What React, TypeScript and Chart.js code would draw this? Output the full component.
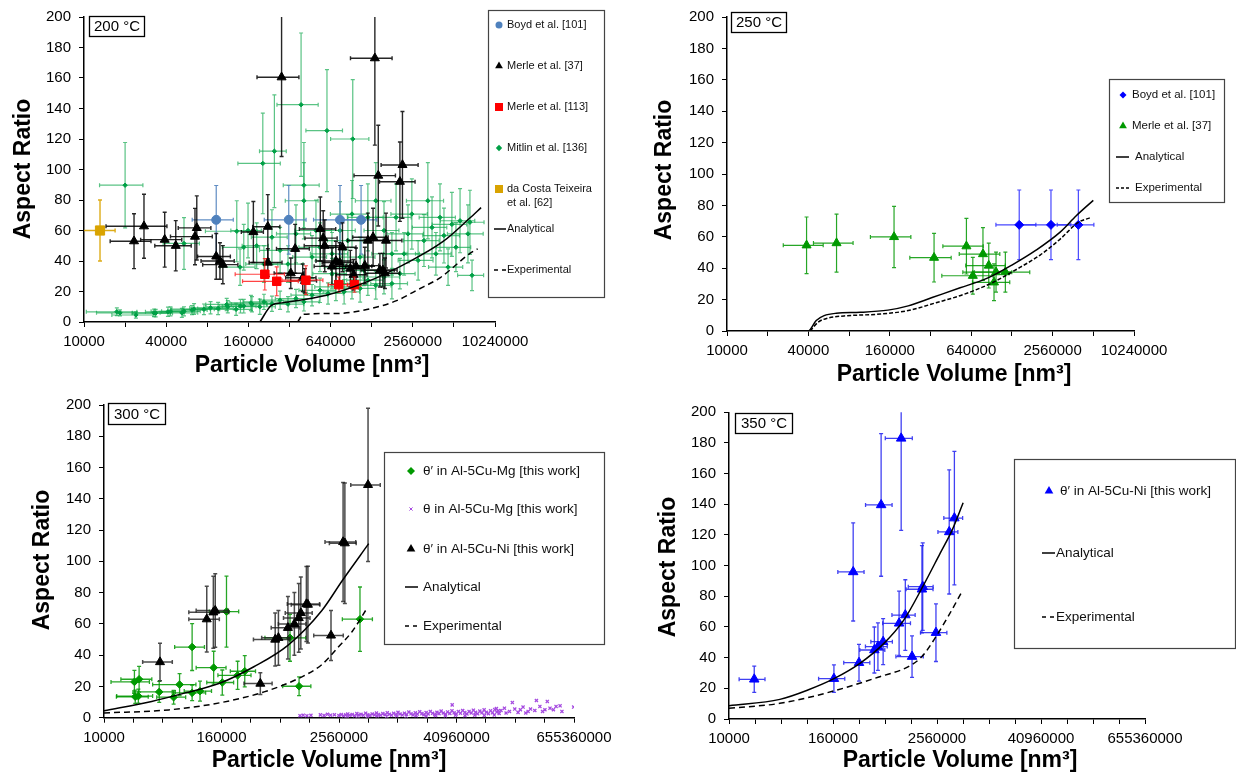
import React, { useEffect, useRef } from 'react';
import { Chart, registerables } from 'chart.js';

Chart.register(...registerables);

const FONT = "'Liberation Sans', Arial, Helvetica, sans-serif";
Chart.defaults.font.family = FONT;
Chart.defaults.color = '#000';

type ErrPt = [number, number, number, number]; // x, y, dx, dy
type XY = [number, number];

// ---------- shared ticks ----------
const xTicksTop = [10000, 20000, 40000, 80000, 160000, 320000, 640000, 1280000, 2560000, 5120000, 10240000];
const xLabelsTop = ['10000', '', '40000', '', '160000', '', '640000', '', '2560000', '', '10240000'];
const xTicksBottom = [10000, 20000, 40000, 80000, 160000, 320000, 640000, 1280000, 2560000, 5120000, 10240000,
  20480000, 40960000, 81920000, 163840000, 327680000, 655360000];
const xLabelsBottom = ['10000', '', '', '', '160000', '', '', '', '2560000', '', '', '', '40960000', '', '', '', '655360000'];
const yTicks = [0, 20, 40, 60, 80, 100, 120, 140, 160, 180, 200];

// ---------- 200 °C ----------
const p200Boyd: ErrPt[] = [
  [93000, 67, 31000, 22.5], [316000, 67, 107000, 22.5], [750000, 67, 270000, 22.5], [1070000, 67, 325000, 22.5],
];
const p200Merle37: ErrPt[] = [
  [23250, 53, 7700, 18], [27500, 62.8, 13000, 21], [39000, 54, 13000, 18], [47000, 50, 14000, 16.5],
  [65000, 56, 22000, 18.5], [67000, 61.7, 18000, 21], [93000, 43, 25000, 15], [99000, 40, 27000, 12],
  [104000, 37.6, 30000, 12.5], [174000, 59, 32000, 20], [222000, 62.5, 50000, 21], [222000, 39, 60000, 9],
  [280000, 160.5, 95000, 52], [327000, 32, 80000, 10], [352000, 48, 95000, 16], [400000, 29, 100000, 9],
  [415000, 27, 90000, 8], [538000, 61, 160000, 21], [565000, 55, 150000, 18], [580000, 50, 170000, 17],
  [655000, 36.5, 170000, 12], [700000, 40, 200000, 13], [745000, 39, 190000, 13], [782000, 49, 200000, 16],
  [893000, 35, 250000, 12], [943000, 31, 240000, 10], [983000, 36.5, 300000, 12], [1140000, 37, 300000, 12],
  [1200000, 53.4, 350000, 18], [1310000, 55.6, 380000, 19], [1350000, 173, 455000, 57], [1430000, 96, 480000, 33],
  [1470000, 34, 400000, 11], [1545000, 34, 420000, 11], [1600000, 32, 450000, 10], [1630000, 53.4, 500000, 18],
  [2060000, 92, 600000, 26], [2150000, 103, 650000, 35],
];
const p200Merle113: ErrPt[] = [
  [211000, 31.3, 83000, 10.3], [258000, 26.7, 113000, 9.5], [422000, 27.4, 140000, 9.5],
  [735000, 24.5, 120000, 5], [957000, 24.5, 110000, 5],
];
const p200Mitlin: ErrPt[] = [
  [20000, 89.7, 7000, 28], [204000, 104, 70000, 33], [248000, 112, 55000, 37], [389000, 142.5, 130000, 47],
  [602000, 125.5, 180000, 40], [930000, 120, 290000, 39],
  [54000, 51.5, 16000, 17], [131500, 59.5, 54000, 20], [184000, 50, 40000, 15], [159000, 60, 40000, 18],
  [148000, 49, 45000, 15], [139000, 36, 40000, 12], [208000, 38, 55000, 12], [238000, 55.6, 70000, 18],
  [273000, 47, 80000, 15], [312000, 38, 90000, 12], [357000, 57.8, 100000, 19], [408000, 89.7, 120000, 28],
  [408000, 79.5, 110000, 25], [468000, 42.6, 130000, 14], [500000, 60, 150000, 20], [535000, 49, 160000, 16],
  [655000, 44.7, 200000, 14], [655000, 31.7, 180000, 10], [750000, 60, 220000, 19], [804000, 36, 230000, 11],
  [857000, 53.4, 250000, 17], [918000, 70.8, 280000, 22], [1053000, 42.6, 300000, 13], [1120000, 33.9, 320000, 10],
  [1200000, 68.6, 350000, 22], [1372000, 79.5, 400000, 25], [1575000, 60, 450000, 19], [1800000, 44.7, 520000, 14],
  [1930000, 68.6, 560000, 22],
  [2060000, 31.7, 600000, 10], [2210000, 44.7, 650000, 14], [2360000, 57.8, 700000, 19], [2520000, 70.8, 750000, 23],
  [2800000, 40.4, 800000, 13], [3090000, 53.4, 900000, 17], [3300000, 79.5, 1000000, 25], [3540000, 62, 1000000, 20],
  [3780000, 44.7, 1100000, 14], [4050000, 68.6, 1200000, 22], [4330000, 56.7, 1300000, 18], [4640000, 36, 1300000, 12],
  [4950000, 64, 1400000, 21], [5300000, 49, 1500000, 16], [5680000, 66.4, 1600000, 21], [6490000, 57.8, 1900000, 19],
  [6950000, 30.6, 1500000, 10], [6710000, 65.4, 1800000, 21],
  [17400, 6.7, 7000, 2.5], [18350, 6, 6000, 2], [24000, 4.6, 8000, 2], [32600, 6, 10000, 2.5],
  [33500, 5.8, 11000, 2.5], [41200, 6.7, 13000, 3], [43000, 7, 12000, 3], [52100, 6, 16000, 3],
  [54000, 7, 17000, 3], [61800, 7.8, 18000, 3], [64000, 8.5, 20000, 3.5], [75600, 8.3, 23000, 3.5],
  [84500, 9.3, 25000, 4], [96000, 8.9, 28000, 4], [111000, 11.5, 33000, 4], [113000, 10, 35000, 4],
  [130000, 8.3, 40000, 4], [140000, 10.4, 42000, 4.5], [148000, 10.4, 45000, 4.5], [167000, 12.5, 50000, 5],
  [170000, 11.7, 50000, 5], [194000, 10, 58000, 5], [208000, 13.2, 62000, 5], [238000, 12, 70000, 5],
  [273000, 14.3, 80000, 6], [312000, 11.7, 95000, 5], [357000, 15.4, 105000, 6], [408000, 13.2, 120000, 6],
  [468000, 17.6, 140000, 7], [535000, 20.8, 160000, 8], [613000, 18.7, 180000, 7], [700000, 23, 210000, 9],
  [804000, 19.8, 240000, 8], [918000, 25.2, 270000, 10], [1053000, 22, 310000, 9], [1200000, 27.4, 360000, 10],
  [1372000, 24, 400000, 9], [1575000, 29.5, 470000, 11], [1800000, 25.2, 540000, 10],
];
const p200DaCosta: ErrPt[] = [[13100, 60, 3800, 20]];
const p200Analytical: XY[] = [
  [194000, 0], [237000, 11], [288000, 12.7], [598000, 17.6], [1178000, 26.3], [2180000, 37.5],
  [4270000, 52.8], [6670000, 68], [8100000, 75],
];
const p200Experimental: XY[] = [
  [368000, 0], [402000, 5], [710000, 5.6], [1178000, 8.2], [1950000, 14], [2730000, 20.8],
  [4050000, 29], [4780000, 34], [6710000, 45], [7650000, 48],
];

// ---------- 250 °C ----------
const p250Boyd: ErrPt[] = [
  [1450000, 67.6, 475000, 22.2], [2490000, 67.6, 1000000, 22.2], [3970000, 67.6, 1200000, 22.2],
];
const p250Merle37: ErrPt[] = [
  [38770, 54.6, 12700, 18], [64600, 56, 21000, 18.5], [172000, 59.9, 57000, 19.5], [340000, 46.7, 115000, 15.5],
  [590000, 54, 195000, 17.7], [658000, 35.2, 270000, 11.7], [782000, 49, 260000, 16.8], [863000, 41.7, 280000, 14.3],
  [944000, 31, 290000, 11.7], [977000, 37.5, 300000, 12.7], [1145000, 37.5, 590000, 12.7],
];
const p250Analytical: XY[] = [
  [10000, 0], [39800, 0], [45700, 6.7], [52300, 9.8], [64300, 11.3], [96600, 11.9], [155000, 13.3],
  [219000, 16], [329000, 21.3], [530000, 27.5], [851000, 33.8], [1280000, 42], [1930000, 51.5],
  [2910000, 63], [3830000, 73.4], [5120000, 83.2],
];
const p250Experimental: XY[] = [
  [41200, 0], [47200, 5.6], [56000, 8.3], [73500, 9.6], [136000, 10.8], [219000, 13], [352000, 18],
  [568000, 23.4], [913000, 30.7], [1370000, 39], [2070000, 48.4], [2900000, 58.4], [3940000, 69], [4940000, 72.4],
];

// ---------- 300 °C ----------
const p300MgPrime: ErrPt[] = [
  [20500, 22.9, 8700, 7.4], [22900, 24.6, 8000, 8.2], [20900, 13.4, 7500, 4.2], [22500, 13.8, 9000, 4.5],
  [36800, 16.5, 17000, 6.7], [51700, 13.1, 17000, 4.4], [59500, 21.2, 28000, 7], [80000, 45.2, 27000, 15],
  [80000, 15.9, 30000, 5], [96400, 17, 30000, 6.4], [133000, 32, 45000, 10.5], [163000, 22.5, 50000, 8],
  [180000, 67.9, 60000, 22.7], [234000, 27.1, 87000, 9], [277000, 29.7, 80000, 10], [806000, 51.1, 360000, 15],
  [998000, 20.1, 320000, 6], [4200000, 63, 1430000, 20.6],
];
const p300MgTheta: XY[] = [
  [1020000, 1.3], [1100000, 1.6], [1200000, 1.2], [1320000, 1.5], [1650000, 1.8], [1800000, 1.4], [1950000, 2.2],
  [2100000, 1.6], [2300000, 1.9],
  [2550000, 1.4], [2700000, 2.0], [2850000, 1.2], [3000000, 1.8], [3150000, 2.4], [3300000, 1.5], [3500000, 2.1],
  [3700000, 1.3], [3900000, 2.6], [4100000, 1.7], [4300000, 2.2], [4550000, 1.5], [4800000, 2.9], [5050000, 1.9],
  [5300000, 1.4], [5600000, 2.4], [5900000, 1.8], [6200000, 3.0], [6500000, 2.1], [6850000, 1.5], [7200000, 2.6],
  [7600000, 1.9], [8000000, 3.2], [8400000, 2.2], [8850000, 1.6], [9300000, 2.8], [9800000, 2.0], [10300000, 3.4],
  [10800000, 2.4], [11400000, 1.7], [12000000, 2.9], [12600000, 2.1], [13300000, 3.6], [14000000, 2.5],
  [14700000, 1.8], [15500000, 3.1], [16300000, 2.3], [17200000, 3.8], [18100000, 2.6], [19000000, 1.9],
  [20000000, 3.3], [21000000, 2.4], [22100000, 4.0], [23300000, 2.8], [24500000, 2.0], [25800000, 3.5],
  [27100000, 2.6], [28500000, 4.2], [30000000, 3.0], [31600000, 2.2], [33200000, 3.7], [35000000, 2.7],
  [36800000, 4.4], [37000000, 8.2], [38700000, 3.1], [40700000, 2.3], [42800000, 3.9], [45000000, 2.9],
  [47400000, 4.6], [49800000, 3.3], [52400000, 2.4], [55100000, 4.0], [58000000, 3.0], [61000000, 4.8],
  [64200000, 3.4], [67500000, 2.5], [71000000, 4.2], [74700000, 3.1], [78600000, 5.0], [82700000, 3.5],
  [87000000, 2.6], [91500000, 4.4], [96000000, 3.2], [101000000, 5.2], [105000000, 5.8], [106000000, 3.6],
  [110000000, 4.5], [112000000, 2.7],
  [3100000, 0.9], [4000000, 1.0], [5000000, 0.8], [6300000, 1.1], [7900000, 0.9], [10000000, 1.2],
  [12500000, 1.0], [15800000, 1.3], [20000000, 1.1], [25000000, 1.4], [31500000, 1.2], [40000000, 1.5],
  [50000000, 1.3], [63000000, 1.6], [79000000, 1.4], [100000000, 1.7],
  [117000000, 4.6], [127000000, 6.1], [132000000, 3.0], [143000000, 4.0], [153000000, 9.7], [162000000, 5.5],
  [175000000, 3.4], [185000000, 5.1], [197000000, 6.8], [210000000, 3.0], [222000000, 4.0], [235000000, 5.5],
  [260000000, 4.6], [270000000, 11.0], [293000000, 7.2], [312000000, 4.0], [330000000, 5.1], [349000000, 10.4],
  [372000000, 6.1], [403000000, 5.1], [429000000, 7.2], [472000000, 7.6], [493000000, 4.0], [650000000, 6.8],
];
const p300NiPrime: ErrPt[] = [
  [37500, 35.6, 12600, 12], [113000, 63, 39000, 21], [132000, 67.4, 58000, 23], [138000, 68.5, 50000, 23.5],
  [400000, 21.8, 128000, 7], [568000, 50, 228000, 17], [613000, 51.1, 200000, 17.5], [767000, 57.5, 250000, 20],
  [893000, 60, 280000, 20], [991000, 63.8, 300000, 22], [1040000, 67, 320000, 23], [1186000, 72.7, 430000, 24],
  [1230000, 72.3, 400000, 24.5], [2120000, 52.6, 710000, 16], [2820000, 112.4, 980000, 38],
  [2940000, 111.6, 900000, 38.5], [5080000, 148.9, 1700000, 49],
];
const p300Analytical: XY[] = [
  [10000, 4.5], [30800, 10.4], [68700, 15.9], [153000, 22], [343000, 32.6], [766000, 46.3],
  [1710000, 68.6], [2760000, 87.6], [5160000, 111.3],
];
const p300Experimental: XY[] = [
  [10000, 3], [46000, 5], [153000, 9.5], [437000, 16.5], [1054000, 26], [1710000, 34], [2500000, 45],
  [3480000, 55], [4900000, 69.5],
];

// ---------- 350 °C ----------
const p350NiPrime: ErrPt[] = [
  [19600, 25.9, 6500, 8.6], [164000, 26.3, 55000, 9], [274000, 95.9, 92000, 32], [320000, 36.7, 107000, 12],
  [482000, 45, 155000, 15], [530000, 47.2, 150000, 15.5], [577000, 139.6, 196000, 46.5], [609000, 50.4, 170000, 15],
  [932000, 62.4, 330000, 21], [985000, 183, 340000, 60], [1100000, 67.8, 330000, 23], [1316000, 40.7, 460000, 13.5],
  [1713000, 84.6, 590000, 28.5], [1750000, 86.3, 560000, 28.5], [2490000, 56.3, 840000, 18.8],
  [3545000, 122, 920000, 40.5], [4070000, 131, 1000000, 43.5],
];
const p350Analytical: XY[] = [
  [10000, 8.7], [38800, 12.8], [81900, 18.9], [164000, 26.3], [328000, 36.3], [622000, 49.3],
  [1060000, 64.6], [1750000, 86.3], [2780000, 108], [3820000, 123], [5140000, 141],
];
const p350Experimental: XY[] = [
  [10000, 7], [38800, 10.2], [164000, 18.3], [558000, 27.6], [1180000, 34], [1713000, 40.7],
  [2490000, 53.7], [3430000, 66.7], [4980000, 83],
];

// ---------- helpers ----------
const toErr = (a: ErrPt[]) => a.map(([x, y, dx, dy]) => ({ x, y, dx, dy }));
const toXY = (a: XY[]) => a.map(([x, y]) => ({ x, y }));

function pts(label: string, data: ErrPt[], style: string, color: string, r: number, errColor: string, errWidth = 1.2) {
  return {
    label, data: toErr(data), pointStyle: style, pointRadius: r, pointHoverRadius: r,
    backgroundColor: color, borderColor: color, borderWidth: 1, showLine: false, errColor, errWidth,
  };
}
function line(label: string, data: XY[], dash: number[]) {
  return {
    label, data: toXY(data), showLine: true, pointRadius: 0, pointHoverRadius: 0, borderColor: '#000',
    backgroundColor: '#000', borderWidth: 1.5, borderDash: dash, cubicInterpolationMode: 'monotone', fill: false,
  };
}

const errorBarPlugin = {
  id: 'errorBars',
  beforeDatasetDraw(chart: any, args: any) {
    const ds = chart.data.datasets[args.index];
    if (!ds.errColor) return;
    const { ctx, chartArea: a } = chart;
    const xs = chart.scales.x, ys = chart.scales.y;
    ctx.save();
    ctx.beginPath();
    ctx.rect(a.left, a.top, a.right - a.left, a.bottom - a.top);
    ctx.clip();
    ctx.strokeStyle = ds.errColor;
    ctx.lineWidth = ds.errWidth;
    const cap = 2;
    for (const p of ds.data) {
      const px = xs.getPixelForValue(p.x), py = ys.getPixelForValue(p.y);
      const xl = xs.getPixelForValue(p.x - p.dx), xr = xs.getPixelForValue(p.x + p.dx);
      const yt = ys.getPixelForValue(p.y + p.dy), yb = ys.getPixelForValue(p.y - p.dy);
      ctx.beginPath();
      ctx.moveTo(xl, py); ctx.lineTo(xr, py);
      ctx.moveTo(xl, py - cap); ctx.lineTo(xl, py + cap);
      ctx.moveTo(xr, py - cap); ctx.lineTo(xr, py + cap);
      ctx.moveTo(px, yt); ctx.lineTo(px, yb);
      ctx.moveTo(px - cap, yt); ctx.lineTo(px + cap, yt);
      ctx.moveTo(px - cap, yb); ctx.lineTo(px + cap, yb);
      ctx.stroke();
    }
    ctx.restore();
  },
};

function drawMarker(ctx: CanvasRenderingContext2D, style: string, x: number, y: number, s: number, color: string) {
  ctx.fillStyle = color;
  ctx.strokeStyle = color;
  ctx.lineWidth = 1;
  ctx.beginPath();
  if (style === 'circle') {
    ctx.arc(x, y, s, 0, Math.PI * 2);
    ctx.fill();
  } else if (style === 'triangle') {
    ctx.moveTo(x, y - s);
    ctx.lineTo(x + 0.866 * s, y + 0.5 * s);
    ctx.lineTo(x - 0.866 * s, y + 0.5 * s);
    ctx.closePath();
    ctx.fill();
  } else if (style === 'rect') {
    ctx.rect(x - s, y - s, 2 * s, 2 * s);
    ctx.fill();
  } else if (style === 'rectRot') {
    ctx.moveTo(x, y - s); ctx.lineTo(x + s, y); ctx.lineTo(x, y + s); ctx.lineTo(x - s, y);
    ctx.closePath();
    ctx.fill();
  } else if (style === 'crossRot') {
    ctx.moveTo(x - s, y - s); ctx.lineTo(x + s, y + s);
    ctx.moveTo(x + s, y - s); ctx.lineTo(x - s, y + s);
    ctx.stroke();
  }
}

type LegendItem = {
  text: string[]; y: number; kind: 'pt' | 'line'; style?: string; color?: string; size?: number;
  dash?: number[]; mx?: number; x0?: number; x1?: number; tx: number;
};
type Layout = {
  w: number; h: number; left: number; top: number;
  area: { l: number; r: number; t: number; b: number };
  xMax: number; xTicks: number[]; xLabels: string[];
  temp: string; tempBox: number[];
  xTitle: number[]; yTitle: number[];
  legendBox: number[]; legendFont: number; legendItems: LegendItem[];
  datasets: any[];
};

function makeDecor(p: Layout) {
  return {
    id: 'decor',
    afterDraw(chart: any) {
      const ctx: CanvasRenderingContext2D = chart.ctx;
      ctx.save();
      // temperature label
      const [tx, ty, tw, th] = p.tempBox;
      ctx.fillStyle = '#fff';
      ctx.fillRect(tx, ty, tw, th);
      ctx.strokeStyle = '#000';
      ctx.lineWidth = 1.3;
      ctx.strokeRect(tx + 0.5, ty + 0.5, tw, th);
      ctx.fillStyle = '#000';
      ctx.font = `15px ${FONT}`;
      ctx.textAlign = 'center';
      ctx.textBaseline = 'middle';
      ctx.fillText(p.temp, tx + tw / 2 + 0.5, ty + th / 2 + 1);
      // legend
      const [lx, ly, lw, lh] = p.legendBox;
      ctx.fillStyle = '#fff';
      ctx.fillRect(lx, ly, lw, lh);
      ctx.strokeStyle = '#444';
      ctx.lineWidth = 1.2;
      ctx.strokeRect(lx + 0.5, ly + 0.5, lw, lh);
      ctx.font = `${p.legendFont}px ${FONT}`;
      ctx.textAlign = 'left';
      ctx.textBaseline = 'middle';
      for (const it of p.legendItems) {
        if (it.kind === 'pt') {
          drawMarker(ctx, it.style!, it.mx!, it.y, it.size!, it.color!);
        } else {
          ctx.beginPath();
          ctx.strokeStyle = '#000';
          ctx.lineWidth = 1.5;
          ctx.setLineDash(it.dash || []);
          ctx.moveTo(it.x0!, it.y);
          ctx.lineTo(it.x1!, it.y);
          ctx.stroke();
          ctx.setLineDash([]);
        }
        ctx.fillStyle = '#111';
        it.text.forEach((t, i) => ctx.fillText(t, it.tx, it.y + i * (p.legendFont + 2.5)));
      }
      // axis titles
      ctx.fillStyle = '#000';
      ctx.font = `bold 23px ${FONT}`;
      ctx.textAlign = 'center';
      ctx.textBaseline = 'middle';
      ctx.fillText('Particle Volume [nm³]', p.xTitle[0], p.xTitle[1]);
      ctx.translate(p.yTitle[0], p.yTitle[1]);
      ctx.rotate(-Math.PI / 2);
      ctx.fillText('Aspect Ratio', 0, 0);
      ctx.restore();
    },
  };
}

// ---------- panel layouts ----------
const MITLIN = '#00A046';
const panels: Layout[] = [
  {
    w: 618, h: 388, left: 0, top: 0,
    area: { l: 84, r: 495, t: 15, b: 322 },
    xMax: 10240000, xTicks: xTicksTop, xLabels: xLabelsTop,
    temp: '200 °C', tempBox: [89, 16, 55, 20],
    xTitle: [312, 366], yTitle: [24, 169],
    legendBox: [488, 10, 116, 287], legendFont: 11,
    legendItems: [
      { text: ['Boyd et al. [101]'], y: 25, kind: 'pt', style: 'circle', color: '#4F81BD', size: 3.5, mx: 499, tx: 507 },
      { text: ['Merle et al. [37]'], y: 66, kind: 'pt', style: 'triangle', color: '#000', size: 4.5, mx: 499, tx: 507 },
      { text: ['Merle et al. [113]'], y: 107, kind: 'pt', style: 'rect', color: '#FF0000', size: 4, mx: 499, tx: 507 },
      { text: ['Mitlin et al. [136]'], y: 148, kind: 'pt', style: 'rectRot', color: MITLIN, size: 3.2, mx: 499, tx: 507 },
      { text: ['da Costa Teixeira', 'et al. [62]'], y: 189, kind: 'pt', style: 'rect', color: '#D9A300', size: 4, mx: 499, tx: 507 },
      { text: ['Analytical'], y: 229, kind: 'line', x0: 494, x1: 506, tx: 507 },
      { text: ['Experimental'], y: 270, kind: 'line', dash: [4, 4], x0: 494, x1: 506, tx: 507 },
    ],
    datasets: [
      line('Analytical', p200Analytical, []),
      line('Experimental', p200Experimental, [6, 4]),
      pts('Merle et al. [113]', p200Merle113, 'rect', '#FF0000', 6, 'rgba(255,20,20,0.8)'),
      pts('Merle et al. [37]', p200Merle37, 'triangle', '#000', 5.2, 'rgba(0,0,0,0.85)', 1.4),
      pts('Boyd et al. [101]', p200Boyd, 'circle', '#4F81BD', 4.5, 'rgba(79,129,189,0.9)'),
      pts('da Costa Teixeira et al. [62]', p200DaCosta, 'rect', '#D9A300', 6.5, 'rgba(217,163,0,0.9)', 1.4),
      pts('Mitlin et al. [136]', p200Mitlin, 'rectRot', MITLIN, 2.2, 'rgba(20,170,80,0.7)', 1.2),
    ],
  },
  {
    w: 618, h: 388, left: 618, top: 0,
    area: { l: 109, r: 516, t: 11, b: 331 },
    xMax: 10240000, xTicks: xTicksTop, xLabels: xLabelsTop,
    temp: '250 °C', tempBox: [113, 12, 55, 20],
    xTitle: [336, 375], yTitle: [47, 170],
    legendBox: [491, 79, 115, 123], legendFont: 11.5,
    legendItems: [
      { text: ['Boyd et al. [101]'], y: 95, kind: 'pt', style: 'rectRot', color: '#0000FF', size: 3.5, mx: 505, tx: 514 },
      { text: ['Merle et al. [37]'], y: 126, kind: 'pt', style: 'triangle', color: '#009900', size: 4.5, mx: 505, tx: 514 },
      { text: ['Analytical'], y: 157, kind: 'line', x0: 498, x1: 511, tx: 517 },
      { text: ['Experimental'], y: 188, kind: 'line', dash: [3, 2], x0: 498, x1: 511, tx: 517 },
    ],
    datasets: [
      line('Analytical', p250Analytical, []),
      line('Experimental', p250Experimental, [4, 2]),
      pts('Boyd et al. [101]', p250Boyd, 'rectRot', '#0000FF', 4.5, 'rgba(40,40,255,0.85)'),
      pts('Merle et al. [37]', p250Merle37, 'triangle', '#009900', 5.2, 'rgba(0,150,0,0.85)'),
    ],
  },
  {
    w: 618, h: 389, left: 0, top: 388,
    area: { l: 104, r: 574, t: 15.3, b: 329.7 },
    xMax: 655360000, xTicks: xTicksBottom, xLabels: xLabelsBottom,
    temp: '300 °C', tempBox: [108, 15, 57, 21],
    xTitle: [329, 373], yTitle: [43, 172],
    legendBox: [384, 64, 220, 192], legendFont: 13.5,
    legendItems: [
      { text: ['θ′ in Al-5Cu-Mg [this work]'], y: 83, kind: 'pt', style: 'rectRot', color: '#009900', size: 4, mx: 411, tx: 423 },
      { text: ['θ in Al-5Cu-Mg [this work]'], y: 121, kind: 'pt', style: 'crossRot', color: '#A64CE0', size: 1.6, mx: 411, tx: 423 },
      { text: ['θ′ in Al-5Cu-Ni [this work]'], y: 161, kind: 'pt', style: 'triangle', color: '#000', size: 5, mx: 411, tx: 423 },
      { text: ['Analytical'], y: 199, kind: 'line', x0: 405, x1: 418, tx: 423 },
      { text: ['Experimental'], y: 238, kind: 'line', dash: [4, 4], x0: 405, x1: 418, tx: 423 },
    ],
    datasets: [
      line('Analytical', p300Analytical, []),
      line('Experimental', p300Experimental, [6, 4]),
      pts('θ′ in Al-5Cu-Ni [this work]', p300NiPrime, 'triangle', '#000', 5.2, 'rgba(30,30,30,0.8)', 1.5),
      pts('θ′ in Al-5Cu-Mg [this work]', p300MgPrime, 'rectRot', '#009900', 3.8, 'rgba(0,150,0,0.85)', 1.3),
      {
        label: 'θ in Al-5Cu-Mg [this work]', data: toXY(p300MgTheta), pointStyle: 'crossRot', pointRadius: 2.2,
        pointHoverRadius: 2.2, borderColor: '#A64CE0', backgroundColor: '#A64CE0', borderWidth: 1.3, showLine: false,
      },
    ],
  },
  {
    w: 618, h: 389, left: 618, top: 388,
    area: { l: 111, r: 527, t: 24.3, b: 331 },
    xMax: 655360000, xTicks: xTicksBottom, xLabels: xLabelsBottom,
    temp: '350 °C', tempBox: [117, 25, 57, 20],
    xTitle: [342, 373], yTitle: [51, 179],
    legendBox: [396, 71, 221, 189], legendFont: 13.5,
    legendItems: [
      { text: ['θ′ in Al-5Cu-Ni [this work]'], y: 103, kind: 'pt', style: 'triangle', color: '#0000FF', size: 5, mx: 431, tx: 442 },
      { text: ['Analytical'], y: 165, kind: 'line', x0: 424, x1: 437, tx: 438 },
      { text: ['Experimental'], y: 229, kind: 'line', dash: [4, 4], x0: 424, x1: 437, tx: 438 },
    ],
    datasets: [
      line('Analytical', p350Analytical, []),
      line('Experimental', p350Experimental, [6, 4]),
      pts('θ′ in Al-5Cu-Ni [this work]', p350NiPrime, 'triangle', '#0000FF', 5.5, 'rgba(30,30,240,0.85)', 1.3),
    ],
  },
];

function ChartPanel({ p }: { p: Layout }) {
  const ref = useRef<HTMLCanvasElement>(null);
  useEffect(() => {
    if (!ref.current) return;
    const tickFont = { family: FONT, size: 15 };
    const chart = new Chart(ref.current, {
      type: 'scatter',
      data: { datasets: p.datasets },
      options: {
        responsive: false,
        animation: false,
        devicePixelRatio: 1,
        events: [],
        layout: { padding: { left: 0, right: p.w - p.area.r, top: p.area.t, bottom: 0 } },
        plugins: { legend: { display: false }, tooltip: { enabled: false } },
        scales: {
          x: {
            type: 'logarithmic',
            min: 10000,
            max: p.xMax,
            afterBuildTicks: (s: any) => { s.ticks = p.xTicks.map((v) => ({ value: v })); },
            afterFit: (s: any) => { s.height = p.h - p.area.b; },
            ticks: {
              autoSkip: false, maxRotation: 0, minRotation: 0, padding: 6, color: '#000', font: tickFont,
              callback: (_v: any, i: number) => p.xLabels[i],
            },
            grid: { drawOnChartArea: false, drawTicks: true, tickLength: 5, color: '#000', lineWidth: 1 },
            border: { display: true, color: '#000', width: 1.5 },
          },
          y: {
            type: 'linear',
            min: 0,
            max: 200,
            afterBuildTicks: (s: any) => { s.ticks = yTicks.map((v) => ({ value: v })); },
            afterFit: (s: any) => { s.width = p.area.l; },
            ticks: { padding: 8, color: '#000', font: tickFont, callback: (v: any) => String(v) },
            grid: { drawOnChartArea: false, drawTicks: true, tickLength: 5, color: '#000', lineWidth: 1 },
            border: { display: true, color: '#000', width: 1.5 },
          },
        },
      } as any,
      plugins: [errorBarPlugin, makeDecor(p)],
    });
    return () => chart.destroy();
  }, [p]);
  return (
    <canvas
      ref={ref}
      width={p.w}
      height={p.h}
      style={{ position: 'absolute', left: p.left, top: p.top, width: p.w, height: p.h }}
    />
  );
}

export default function App() {
  return (
    <div style={{ position: 'fixed', left: 0, top: 0, width: 1236, height: 777, background: '#fff', overflow: 'hidden' }}>
      {panels.map((p, i) => (
        <ChartPanel key={i} p={p} />
      ))}
    </div>
  );
}
